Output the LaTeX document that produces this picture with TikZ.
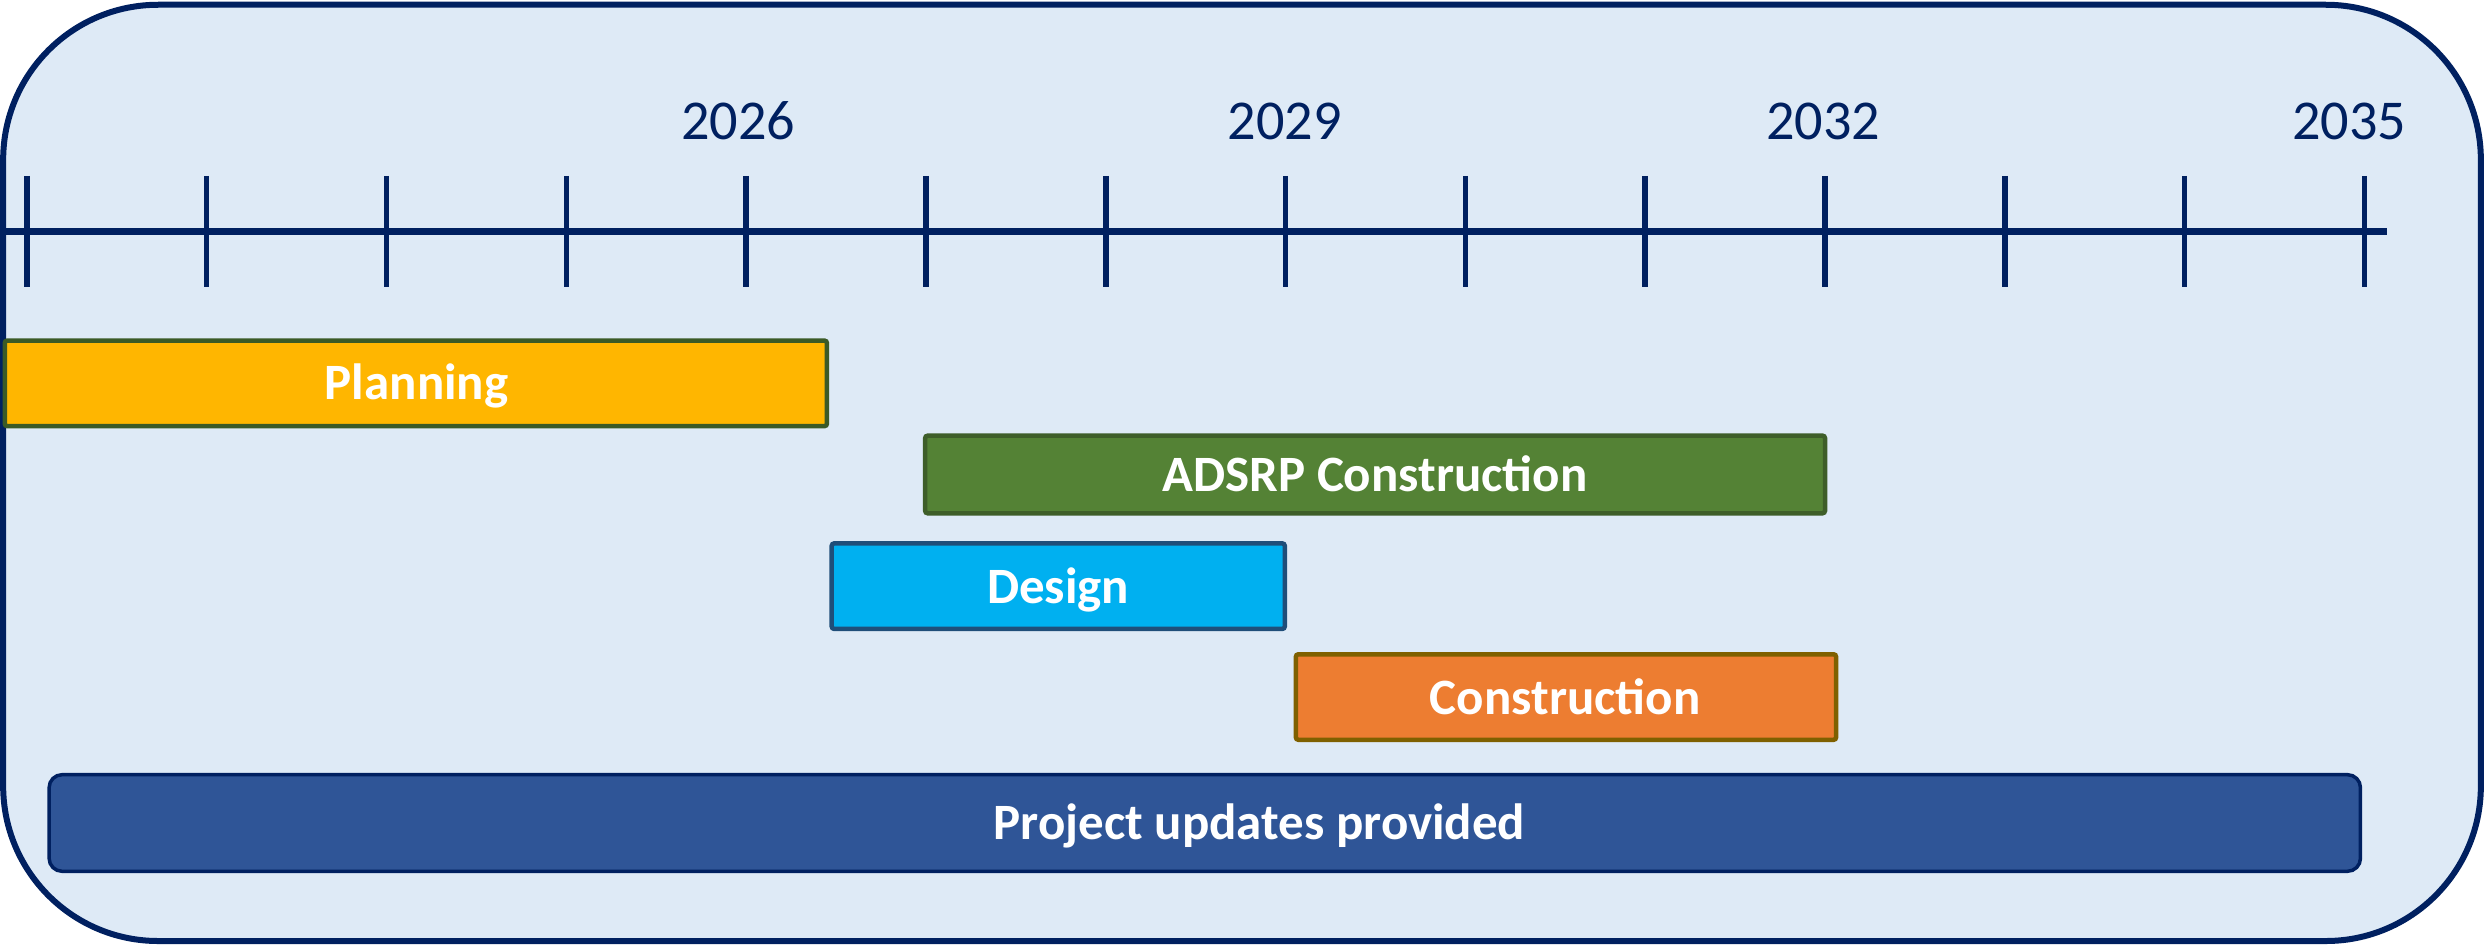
\documentclass[tikz,border=0pt]{standalone}
\usepackage{fontspec}
\setmainfont{Carlito}
\definecolor{navy}{HTML}{002060}
\definecolor{paleblue}{HTML}{DEEAF6}
\definecolor{gold}{HTML}{FFB600}
\definecolor{goldedge}{HTML}{3B5A26}
\definecolor{leaf}{HTML}{548235}
\definecolor{leafedge}{HTML}{3E5E29}
\definecolor{sky}{HTML}{00B0F0}
\definecolor{skyedge}{HTML}{1F4E79}
\definecolor{rust}{HTML}{ED7D31}
\definecolor{rustedge}{HTML}{7F6000}
\definecolor{royal}{HTML}{2F5597}
\tikzset{
  frame/.style={draw=navy, fill=paleblue, line width=0.6mm, rounded corners=15.5mm},
  axisline/.style={navy, line width=0.7mm},
  yeartick/.style={navy, line width=0.55mm},
  yearlabel/.style={text=navy, anchor=base, font=\fontsize{16}{19}\selectfont},
  phase/.style={line width=0.45mm, rounded corners=0.25mm},
  phaselabel/.style={text=white, anchor=base, font=\fontsize{14.5}{17}\selectfont\bfseries},
}
\begin{document}
\begin{tikzpicture}[x=0.15842mm, y=-0.15842mm]
			\useasboundingbox (0,0) rectangle (1568,596);
			
			\draw[frame] (2,3) rectangle (1566,594);
			
			% time axis
			\draw[axisline] (3,146) -- (1507,146);
			\foreach \i in {0,...,13}
				\draw[yeartick] ({17+113.5*\i},111) -- ({17+113.5*\i},181);
			
			\node[yearlabel] (y2026) at (466,88) {2026};
			\node[yearlabel] (y2029) at (811,88) {2029};
			\node[yearlabel] (y2032) at (1151,88) {2032};
			\node[yearlabel] (y2035) at (1483,88) {2035};
			
			% phases
			\draw[phase, fill=gold, draw=goldedge] (3,215) rectangle (522,269);
			\node[phaselabel] (planning) at (263,252) {Planning};
			
			\draw[phase, fill=leaf, draw=leafedge] (584,275) rectangle (1152,324);
			\node[phaselabel] (adsrp) at (868,310) {ADSRP Construction};
			
			\draw[phase, fill=sky, draw=skyedge] (525,343) rectangle (811,397);
			\node[phaselabel] (design) at (668,381) {Design};
			
			\draw[phase, fill=rust, draw=rustedge] (818,413) rectangle (1159,467);
			\node[phaselabel] (construction) at (988,451) {Construction};
			
			\draw[fill=royal, draw=navy, line width=0.35mm, rounded corners=1.3mm] (31,489) rectangle (1490,550);
			\node[phaselabel] (updates) at (795,530) {Project updates provided};
			
\end{tikzpicture}
\end{document}
